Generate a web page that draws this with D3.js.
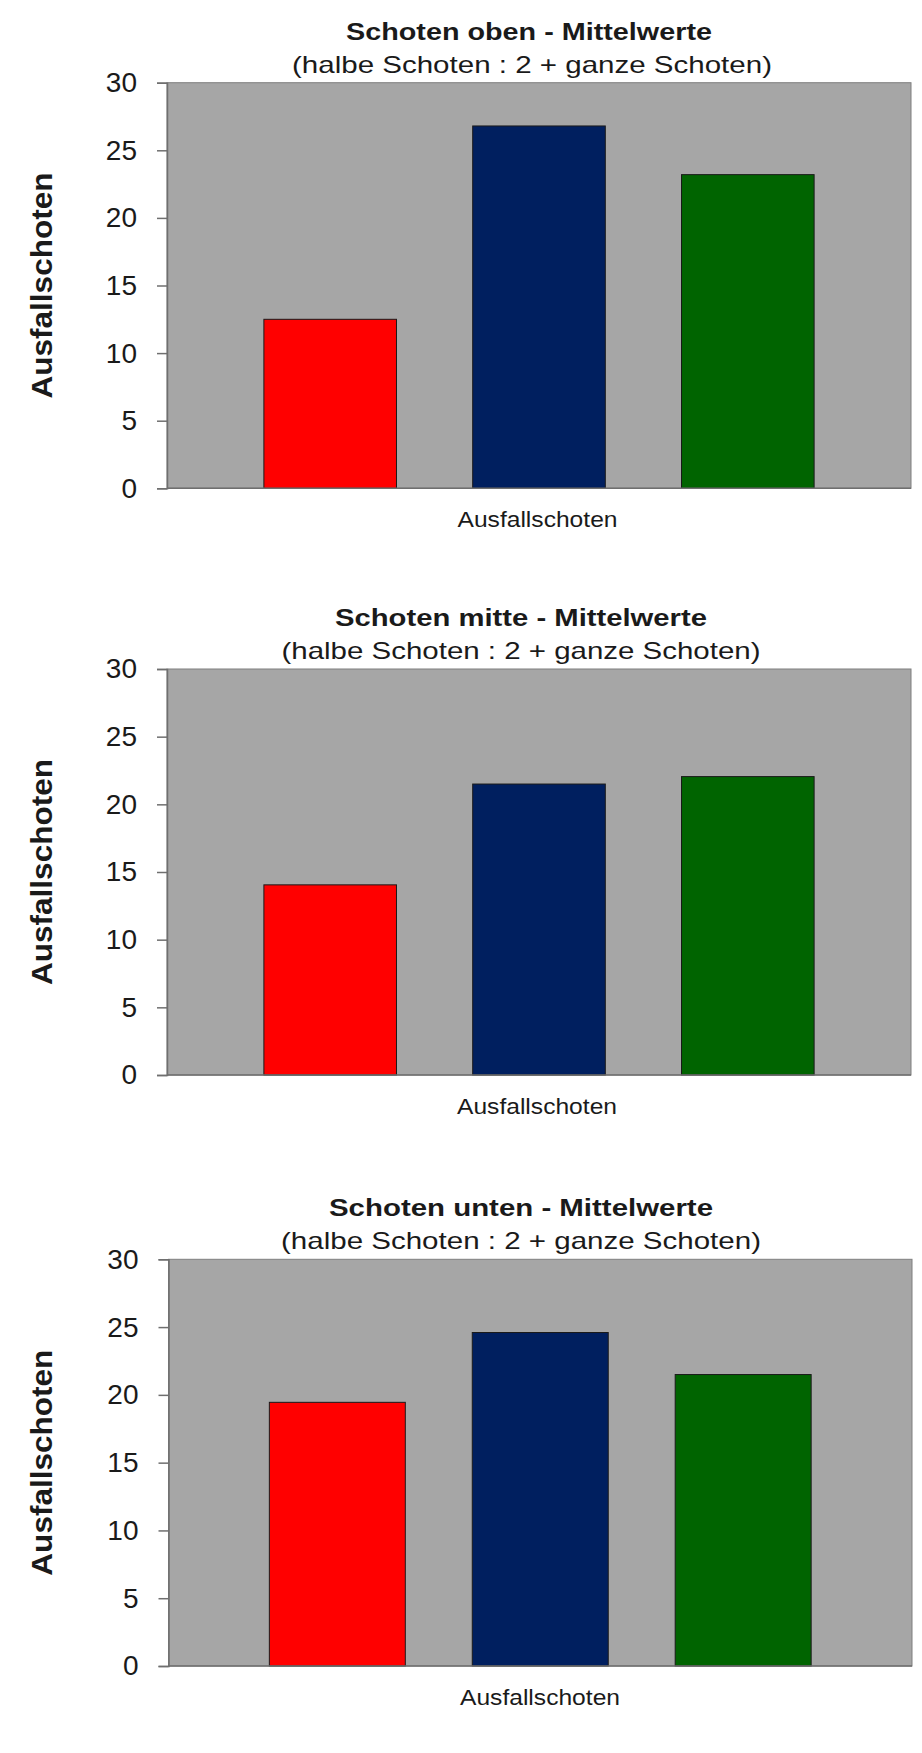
<!DOCTYPE html>
<html>
<head>
<meta charset="utf-8">
<script src="https://cdn.jsdelivr.net/npm/d3@7"></script>
<style>
  html, body { margin: 0; padding: 0; background: #ffffff; }
  svg { display: block; }
</style>
</head>
<body>
<div id="chart"></div>
<script>
// ---------- data ----------
const series = ["Reihe 1", "Reihe 2", "Reihe 3"];
const xCategory = "Ausfallschoten";
const yAxisLabel = "Ausfallschoten";
const yTicks = [0, 5, 10, 15, 20, 25, 30];
const titles = ["Schoten oben - Mittelwerte", "Schoten mitte - Mittelwerte", "Schoten unten - Mittelwerte"];
const subtitle = "(halbe Schoten : 2 + ganze Schoten)";
const valuesOben  = [12.5, 26.8, 23.2];
const valuesMitte = [14.05, 21.5, 22.05];
const valuesUnten = [19.45, 24.6, 21.5];

// ---------- layout / style ----------
const W = 922, H = 1753;
const colors = ["#ff0000", "#001f5f", "#006400"];
const FONT = "'Liberation Sans', Arial, Helvetica, sans-serif";

const panels = [
  { title: titles[0], values: valuesOben,  top: 82.7,  bottom: 488.3, left: 167,   right: 911,
    padIn: 0.365, padOut: 0.464, titleX: 529, titleW: 366, subX: 532, subW: 480, xLabX: 537.5 },
  { title: titles[1], values: valuesMitte, top: 669,   bottom: 1075,  left: 167,   right: 911,
    padIn: 0.365, padOut: 0.464, titleX: 521, titleW: 372, subX: 521, subW: 479, xLabX: 537 },
  { title: titles[2], values: valuesUnten, top: 1259.3, bottom: 1666, left: 168.5, right: 912,
    padIn: 0.33,  padOut: 0.497, titleX: 521, titleW: 384, subX: 521, subW: 480, xLabX: 540 }
];

const svg = d3.select("#chart").append("svg")
  .attr("width", W).attr("height", H)
  .attr("viewBox", `0 0 ${W} ${H}`);

svg.append("rect").attr("width", W).attr("height", H).attr("fill", "#ffffff");

panels.forEach(p => {
  const g = svg.append("g");
  const y = d3.scaleLinear().domain([0, 30]).range([p.bottom, p.top]);
  const x = d3.scaleBand().domain(series).range([p.left, p.right])
    .paddingInner(p.padIn).paddingOuter(p.padOut);

  // plot area
  g.append("rect")
    .attr("x", p.left).attr("y", p.top)
    .attr("width", p.right - p.left).attr("height", p.bottom - p.top)
    .attr("fill", "#a6a6a6")
    .attr("stroke", "#7f7f7f").attr("stroke-width", 1);

  // bars
  g.selectAll("rect.bar").data(p.values).join("rect")
    .attr("class", "bar")
    .attr("x", (d, i) => x(series[i]))
    .attr("y", d => y(d))
    .attr("width", x.bandwidth())
    .attr("height", d => y(0) - y(d))
    .attr("fill", (d, i) => colors[i])
    .attr("stroke", "#1a1a1a").attr("stroke-width", 1);

  // y axis
  const axis = d3.axisLeft(y).tickValues(yTicks).tickSize(10).tickPadding(20)
    .tickFormat(d3.format("d"));
  const ag = g.append("g").attr("transform", `translate(${p.left},0)`).call(axis);
  ag.select(".domain").attr("stroke", "#6f6f6f").attr("stroke-width", 1.5);
  ag.selectAll(".tick line").attr("stroke", "#6f6f6f").attr("stroke-width", 1.5);
  ag.selectAll(".tick text")
    .attr("fill", "#1a1a1a")
    .style("font-family", FONT).style("font-size", "28px");

  // x axis line
  g.append("line")
    .attr("x1", p.left).attr("x2", p.right)
    .attr("y1", y(0)).attr("y2", y(0))
    .attr("stroke", "#6f6f6f").attr("stroke-width", 1.5);

  // title + subtitle
  g.append("text")
    .attr("x", p.titleX).attr("y", p.top - 43)
    .attr("text-anchor", "middle")
    .attr("textLength", p.titleW).attr("lengthAdjust", "spacingAndGlyphs")
    .style("font-family", FONT).style("font-size", "24px").style("font-weight", "bold")
    .attr("fill", "#1a1a1a")
    .text(p.title);
  g.append("text")
    .attr("x", p.subX).attr("y", p.top - 10)
    .attr("text-anchor", "middle")
    .attr("textLength", p.subW).attr("lengthAdjust", "spacingAndGlyphs")
    .style("font-family", FONT).style("font-size", "24px")
    .attr("fill", "#1a1a1a")
    .text(subtitle);

  // x label
  g.append("text")
    .attr("x", p.xLabX).attr("y", p.bottom + 38.5)
    .attr("text-anchor", "middle")
    .attr("textLength", 160).attr("lengthAdjust", "spacingAndGlyphs")
    .style("font-family", FONT).style("font-size", "22px")
    .attr("fill", "#1a1a1a")
    .text(xCategory);

  // y label
  const cy = (p.top + p.bottom) / 2;
  g.append("text")
    .attr("transform", `translate(52,${cy}) rotate(-90)`)
    .attr("text-anchor", "middle")
    .attr("textLength", 226).attr("lengthAdjust", "spacingAndGlyphs")
    .style("font-family", FONT).style("font-size", "30px").style("font-weight", "bold")
    .attr("fill", "#1a1a1a")
    .text(yAxisLabel);
});
</script>
</body>
</html>
